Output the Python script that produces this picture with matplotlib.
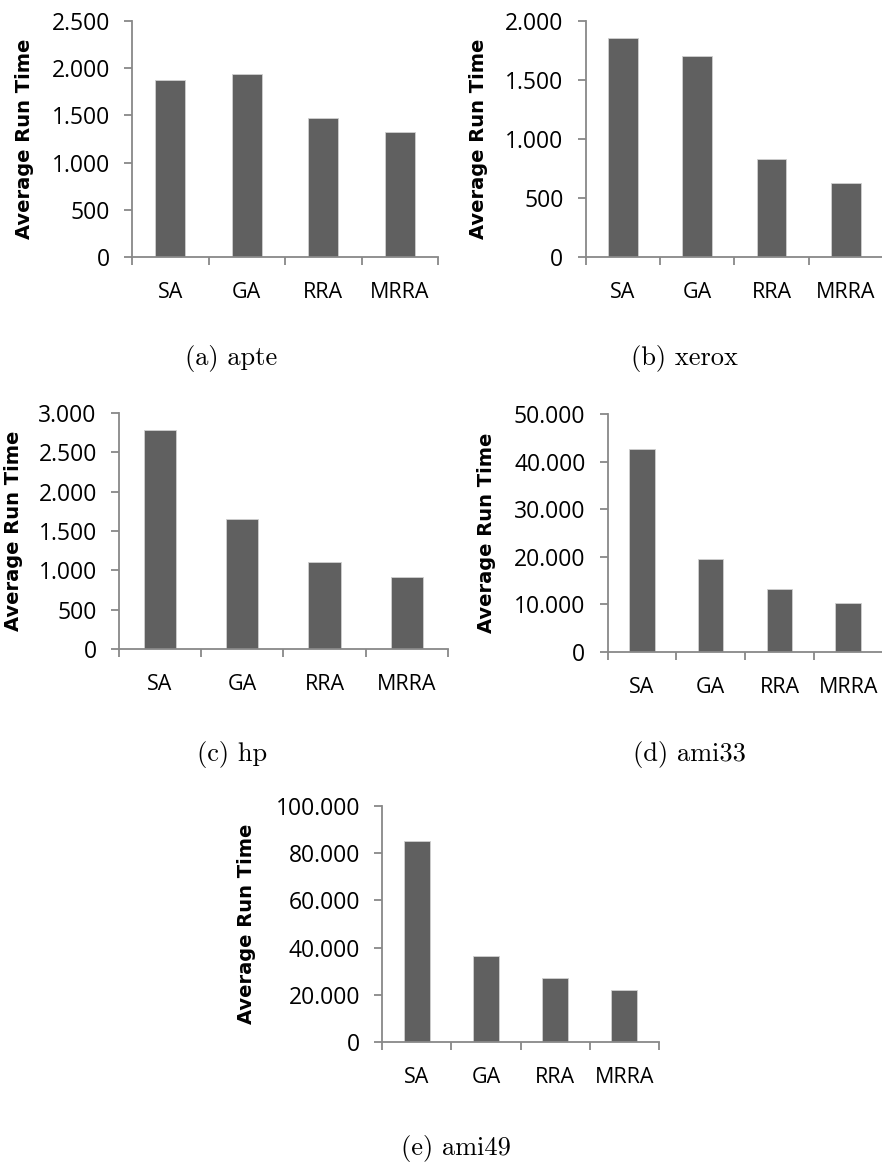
import matplotlib.pyplot as plt
from matplotlib.ticker import FixedLocator, FuncFormatter

# Average run time of each placement algorithm, per benchmark
algorithms = ["SA", "GA", "RRA", "MRRA"]

apte_times = [1873, 1937, 1469, 1321]
xerox_times = [1851, 1699, 834, 631]
hp_times = [2777, 1656, 1103, 921]
ami33_times = [42760, 19630, 13320, 10310]
ami49_times = [84950, 36600, 27300, 22230]

captions = ["(a) apte", "(b) xerox", "(c) hp", "(d) ami33", "(e) ami49"]
y_limits = [2500, 2000, 3000, 50000, 100000]
y_steps = [500, 500, 500, 10000, 20000]

W, H = 882, 1165
fig = plt.figure(figsize=(W / 100, H / 100), dpi=100)

# pixel boxes: left, right, top, bottom of each plot area
boxes = [
    (132, 438, 20.7, 257.3),
    (585.7, 883, 20.7, 257.3),
    (119, 447.8, 412.7, 649.3),
    (607.7, 882.5, 414.3, 652),
    (382.3, 658.7, 805.7, 1042.3),
]
bar_widths = [0.39, 0.40, 0.39, 0.37, 0.37]
label_x = [25, 478, 14, 487, 247]
caption_pos = [(231, 358), (684, 358), (232, 755), (689, 755), (456, 1148)]

bar_color = "#606060"
axis_color = "#888888"
tick_font = "Open Sans"


def thousands(v, _):
    return f"{int(v):,}".replace(",", ".")


series = [apte_times, xerox_times, hp_times, ami33_times, ami49_times]

for i, times in enumerate(series):
    l, r, t, b = boxes[i]
    ax = fig.add_axes([l / W, 1 - b / H, (r - l) / W, (b - t) / H])
    x = list(range(len(algorithms)))
    ax.bar(x, times, width=bar_widths[i], color=bar_color,
           edgecolor="#d0d0d0", linewidth=0.6, zorder=2)
    ax.set_xlim(-0.5, len(algorithms) - 0.5)
    ax.set_ylim(0, y_limits[i])

    for side in ("top", "right"):
        ax.spines[side].set_visible(False)
    for side in ("left", "bottom"):
        ax.spines[side].set_color(axis_color)
        ax.spines[side].set_linewidth(1.3)

    ax.yaxis.set_major_locator(FixedLocator(
        list(range(0, y_limits[i] + 1, y_steps[i]))))
    ax.yaxis.set_major_formatter(FuncFormatter(thousands))
    ax.tick_params(axis="y", length=6, width=1.3, color=axis_color,
                   pad=10, labelsize=16.5)

    ax.set_xticks(x)
    ax.set_xticklabels(algorithms)
    ax.set_xticks([k - 0.5 for k in range(len(algorithms) + 1)], minor=True)
    ax.tick_params(axis="x", which="major", length=0, pad=18, labelsize=15.5)
    ax.tick_params(axis="x", which="minor", length=6, width=1.3,
                   color=axis_color)
    for lab in ax.get_xticklabels() + ax.get_yticklabels():
        lab.set_fontfamily(tick_font)

    fig.text(label_x[i] / W, 1 - (t + b) / 2 / H, "Average Run Time",
             rotation=90, ha="center", va="center", fontsize=14,
             fontweight="bold", fontfamily="DejaVu Sans")

    cx, cy = caption_pos[i]
    fig.text(cx / W, 1 - cy / H, captions[i], fontsize=19,
             fontfamily="cmr10", ha="center", va="center")

fig.savefig("out.png", dpi=100)
